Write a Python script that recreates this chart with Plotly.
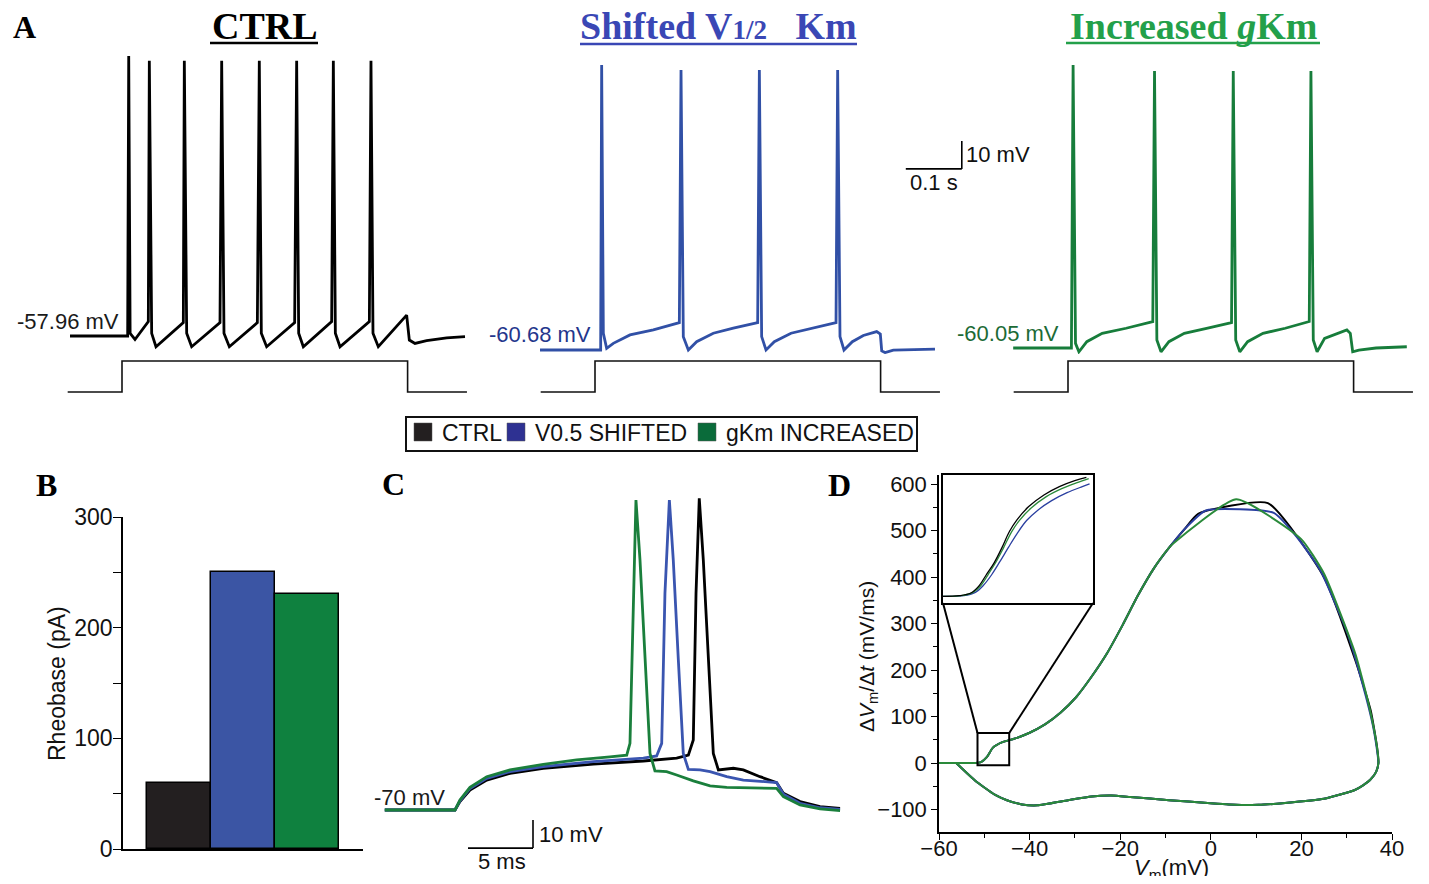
import plotly.graph_objects as go

W, H = 1429, 884          # browser window
OFF = 8                   # default page body margin
FW, FH = W - 2 * OFF, H - 2 * OFF   # figure size that fits inside the window

# ===================== DATA =====================
# Panel A: membrane potential traces, time (ms) and voltage (mV)
ctrl_t = [7.1, 110.1, 112.0, 114.5, 123.2, 144.0, 147.0, 148.8, 153.0, 160.7, 209.5, 211.3, 215.5, 224.4,
          275.0, 278.0, 282.1, 291.7, 341.7, 345.2, 348.8, 358.3, 408.3, 411.9, 415.5, 423.8, 474.4, 477.4,
          481.0, 489.3, 541.7, 544.6, 548.2, 557.7, 608.3, 613.1, 623.2, 644.0, 679.8, 712.5]
ctrl_v = [-57.96, -57.96, 42.0, -57.0, -59.2, -53.2, -52.8, 40.3, -57.0, -61.8, -53.2, 40.3, -57.0, -61.8,
          -53.2, 40.3, -57.0, -61.8, -53.2, 40.3, -57.0, -61.8, -53.2, 40.3, -57.0, -61.8, -52.8, 40.3,
          -57.0, -61.8, -52.8, 40.3, -57.0, -61.8, -50.5, -59.4, -60.6, -59.6, -58.6, -58.2]

blue_t = [1.8, 110.1, 111.9, 114.9, 120.8, 132.7, 162.5, 204.2, 250.6, 253.6, 257.7, 266.7, 281.5, 311.3,
          347.0, 390.5, 393.5, 397.6, 405.4, 420.2, 450.0, 485.7, 530.4, 533.3, 537.5, 544.6, 559.5, 579.2,
          603.0, 609.5, 612.0, 618.0, 632.7, 707.1]
blue_v = [-60.68, -60.68, 41.1, -54.7, -60.1, -58.3, -55.3, -53.5, -50.9, 39.3, -55.9, -60.68, -57.7, -54.7,
          -52.9, -50.9, 39.3, -55.9, -60.68, -57.7, -54.7, -52.9, -50.9, 39.3, -55.9, -60.68, -57.7, -55.5,
          -54.1, -55.0, -61.0, -61.6, -60.7, -60.4]

green_t = [2.1, 106.1, 109.1, 113.4, 119.5, 133.6, 161.1, 203.8, 251.4, 254.5, 258.7, 266.1, 280.2, 307.7,
           347.5, 392.0, 395.1, 399.5, 406.8, 420.8, 448.2, 488.0, 530.8, 533.8, 538.0, 544.8, 558.2, 598.0,
           604.1, 608.4, 619.5, 650.0, 705.0]
green_v = [-60.05, -60.05, 41.0, -58.4, -61.4, -57.8, -54.8, -53.0, -50.6, 38.9, -57.2, -61.4, -57.8, -54.8,
           -53.0, -51.0, 38.9, -57.2, -61.4, -57.8, -54.8, -53.0, -50.6, 38.9, -57.2, -61.4, -56.6, -53.6,
           -54.8, -61.4, -60.8, -60.05, -59.6]

# current step (normalised), time in ms
stim_t = [3, 100, 100, 610, 610, 716]
stim_i = [0, 0, 1, 1, 0, 0]

resting_labels = ["-57.96 mV", "-60.68 mV", "-60.05 mV"]

# Panel B: rheobase (pA)
rheo_groups = ["CTRL", "V0.5 SHIFTED", "gKm INCREASED"]
rheo_pA = [60, 250, 230]
b_tickvals = [0, 50, 100, 150, 200, 250, 300]
b_ticktext = ["0", "", "100", "", "200", "", "300"]

# Panel C: first spike, time (ms) and voltage (mV)
c_ctrl_t = [-5.4, 0, 0.38, 1.15, 2.44, 4.23, 6.79, 10.64, 14.49, 17.05, 17.95, 18.33, 18.54, 18.79, 19.10,
            19.49, 19.87, 20.26, 21.41, 22.18, 23.46, 24.74, 25.26, 26.54, 28.08, 29.62]
c_ctrl_v = [-70, -70, -67.0, -62.9, -59.3, -56.9, -55.1, -53.6, -52.5, -51.5, -50.4, -45.0, 7.4, 41.3, 19.3,
            -16.4, -49.8, -55.7, -55.1, -55.7, -58.1, -60.2, -64.0, -67.0, -68.8, -69.4]
c_blue_t = [-5.4, 0, 0.38, 1.15, 2.44, 4.23, 6.79, 10.64, 14.49, 15.51, 15.90, 16.15, 16.49, 16.79, 17.18,
            17.56, 17.95, 18.85, 19.62, 20.90, 22.18, 24.74, 25.26, 26.54, 28.08, 29.62]
c_blue_v = [-70, -70, -66.7, -62.3, -58.7, -56.3, -54.5, -52.7, -51.5, -50.7, -46.2, 7.4, 40.7, 19.3, -16.4,
            -49.8, -55.5, -55.7, -56.3, -58.1, -59.3, -60.2, -64.4, -67.6, -69.2, -69.8]
c_green_t = [-5.4, 0, 0.38, 1.15, 2.44, 4.23, 6.79, 9.36, 11.92, 13.21, 13.46, 13.72, 13.92, 14.23, 14.62,
             15.0, 15.38, 16.28, 17.05, 18.33, 19.62, 20.90, 24.74, 25.26, 26.54, 28.08, 29.62]
c_green_v = [-70, -70, -66.4, -61.9, -58.1, -55.7, -53.7, -52.1, -51.0, -50.4, -46.2, 7.4, 40.7, 19.3, -16.4,
             -49.8, -56.0, -56.3, -57.5, -59.6, -61.4, -61.9, -62.3, -65.2, -68.2, -69.6, -70.2]

# Panel D: phase plots, Vm (mV) vs dVm/dt (mV/ms)
d_up_v = [-60, -56.2, -52.0, -50.7, -49.4, -48.1, -46.0, -43.4, -40.0, -36.6, -33.2, -29.7, -26.3, -22.9,
          -19.5, -16.1, -12.6, -9.2]
d_up_dvdt = [0, 0, 0, 2, 13, 33, 45, 52, 65, 83, 108, 142, 186, 236, 296, 360, 418, 463]
d_down_v = [36.5, 35.2, 33.6, 31.8, 25.0, 16.4, 10.5, 4.0, -0.7, -9.2, -17.8, -22.0, -26.3, -31.5, -38.3,
            -41.7, -45.0, -47.7, -52.0, -56.2]
d_down_dvdt = [-19, -36, -48, -58, -77, -86, -90, -89, -86, -80, -73, -70, -72, -80, -91, -89, -80, -68,
               -38, 0]
d_ctrl_top_v = [-5.8, -2.8, 12.6, 25.0, 31.9, 35.3, 36.7, 37.0]
d_ctrl_top_dvdt = [503, 536, 559, 399, 221, 113, 34, 0]
d_blue_top_v = [-5.8, -1.1, 13.9, 19.0, 24.2, 30.2, 33.5, 35.8, 36.8, 37.0]
d_blue_top_dvdt = [503, 543, 538, 486, 414, 278, 170, 80, 20, 0]
d_green_top_v = [-8.3, 5.6, 19.9, 25.0, 31.9, 35.0, 36.6, 37.0]
d_green_top_dvdt = [472, 567, 482, 407, 235, 120, 40, 0]

# Panel D inset (threshold region)
ins_ctrl_v = [-51.5, -50.74, -50.2, -49.84, -49.48, -49.12, -48.76, -48.4, -48.05, -47.5, -46.79, -46.07,
              -45.35, -44.81]
ins_ctrl_dvdt = [-1.39, -1.03, 0.42, 4.03, 10.34, 16.66, 24.79, 33.81, 40.13, 47.35, 53.67, 58.18, 61.43, 63.24]
ins_green_v = [-51.5, -50.64, -50.1, -49.74, -49.38, -49.02, -48.66, -48.3, -47.94, -47.4, -46.68, -45.96,
               -45.24, -44.7]
ins_green_dvdt = [-1.39, -1.03, 0.78, 4.39, 10.71, 17.38, 25.33, 33.63, 39.77, 46.45, 52.77, 57.1, 60.35, 62.52]
ins_blue_v = [-51.5, -50.53, -49.99, -49.63, -49.23, -48.84, -48.44, -48.05, -47.6, -47.06, -46.43, -45.71,
              -45.0, -44.66]
ins_blue_dvdt = [-1.39, -1.03, 0.78, 4.39, 10.34, 17.56, 25.33, 32.55, 39.77, 45.55, 50.6, 54.93, 58.18, 59.63]
ins_window_v = [-51.5, -44.5]
ins_window_dvdt = [-5, 64.5]

legend_names = ["CTRL", "V0.5 SHIFTED", "gKm INCREASED"]

# ===================== STYLE / LAYOUT =====================
SANS = "Liberation Sans, Arial, sans-serif"
SERIF = "Liberation Serif, Times New Roman, serif"
BLACK = "#000000"
BLUE = "#3150a6"
GREEN = "#177d3b"


def px(x):
    return (x - OFF) / FW


def py(y):
    return 1 - (y - OFF) / FH


def dom_x(p0, p1):
    return [px(p0), px(p1)]


def dom_y(top, bot):
    return [py(bot), py(top)]


def rng_x(p0, p1, ref_px, ref_val, ppu):
    return [ref_val + (p0 - ref_px) / ppu, ref_val + (p1 - ref_px) / ppu]


def rng_y(top, bot, ref_py, ref_val, ppu):
    return [ref_val - (bot - ref_py) / ppu, ref_val + (ref_py - top) / ppu]


def akey(letter, n):
    return f"{letter}axis" if n == 1 else f"{letter}axis{n}"


def aref(letter, n):
    return letter if n == 1 else f"{letter}{n}"


fig = go.Figure()
layout = {}
shapes = []
annotations = []
hidden = dict(visible=False, fixedrange=True, showgrid=False, zeroline=False, automargin=False)


def ann(x, y, text, size, color=BLACK, xanchor="center", yanchor="middle", family=SANS, **kw):
    annotations.append(dict(x=px(x), y=py(y), xref="paper", yref="paper", text=text, showarrow=False,
                            xanchor=xanchor, yanchor=yanchor, font=dict(size=size, color=color, family=family),
                            **kw))


def pline(x0, y0, x1, y1, color=BLACK, width=2):
    shapes.append(dict(type="line", xref="paper", yref="paper", x0=px(x0), y0=py(y0), x1=px(x1), y1=py(y1),
                       line=dict(color=color, width=width)))


# ---------- Panel A ----------
a_panels = [
    dict(t=ctrl_t, v=ctrl_v, color=BLACK, x0=55, x1=480, t0px=66, vref=-57.96, vpx=336),
    dict(t=blue_t, v=blue_v, color=BLUE, x0=530, x1=975, t0px=539, vref=-60.68, vpx=350),
    dict(t=green_t, v=green_v, color=GREEN, x0=990, x1=1421, t0px=1012, vref=-60.05, vpx=348),
]
PPMS = 0.56   # px per ms
PPMV = 2.8    # px per mV
n = 1
for p in a_panels:
    xr = rng_x(p["x0"], p["x1"], p["t0px"], 0, PPMS)
    layout[akey("x", n)] = dict(hidden, domain=dom_x(p["x0"], p["x1"]), range=xr, anchor=aref("y", n))
    layout[akey("y", n)] = dict(hidden, domain=dom_y(40, 354), range=rng_y(40, 354, p["vpx"], p["vref"], PPMV),
                                anchor=aref("x", n))
    fig.add_trace(go.Scatter(x=p["t"], y=p["v"], mode="lines", line=dict(color=p["color"], width=2.8),
                             xaxis=aref("x", n), yaxis=aref("y", n), hoverinfo="skip", showlegend=False))
    m = n + 1
    layout[akey("x", m)] = dict(hidden, domain=dom_x(p["x0"], p["x1"]), range=xr, anchor=aref("y", m))
    layout[akey("y", m)] = dict(hidden, domain=dom_y(354, 400), range=rng_y(354, 400, 392, 0, 31),
                                anchor=aref("x", m))
    fig.add_trace(go.Scatter(x=stim_t, y=stim_i, mode="lines", line=dict(color="#111111", width=1.6),
                             xaxis=aref("x", m), yaxis=aref("y", m), hoverinfo="skip", showlegend=False))
    n += 2

# resting potential labels
ann(121, 322, resting_labels[0], 22, "#1a1a1a", xanchor="right")
ann(593, 335, resting_labels[1], 22, "#24368c", xanchor="right")
ann(1061, 333, resting_labels[2], 22, "#1c6b36", xanchor="right")

# titles
ann(264.5, 26, "<b>CTRL</b>", 38, BLACK, family=SERIF)
pline(210, 43, 318, 43, BLACK, 2.5)
ann(718.5, 26, "<b>Shifted V<span style='font-size:27px'>1/2</span>\u00a0\u00a0\u00a0Km</b>", 38, "#3a47b5",
    family=SERIF)
pline(580, 44, 857, 44, "#3a47b5", 2.5)
ann(1193, 26, "<b>Increased <i>g</i>Km</b>", 38, "#23a04a", family=SERIF)
pline(1066, 43, 1320, 43, "#23a04a", 2.5)

# scale bar (blue panel coordinates: axes x3/y3)
shapes.append(dict(type="line", xref="x3", yref="y3", x0=655, x1=755, y0=4, y1=4,
                   line=dict(color=BLACK, width=1.6)))
shapes.append(dict(type="line", xref="x3", yref="y3", x0=755, x1=755, y0=4, y1=14,
                   line=dict(color=BLACK, width=1.6)))
annotations.append(dict(x=755, y=9, xref="x3", yref="y3", text="10 mV", showarrow=False, xanchor="left",
                        yanchor="middle", xshift=2, font=dict(size=22, family=SANS, color="#111111")))
annotations.append(dict(x=705, y=4, xref="x3", yref="y3", text="0.1 s", showarrow=False, xanchor="center",
                        yanchor="top", yshift=1, font=dict(size=22, family=SANS, color="#111111")))

# panel letters
ann(24.5, 27, "<b>A</b>", 32, family=SERIF)
ann(46.5, 485, "<b>B</b>", 32, family=SERIF)
ann(394, 484, "<b>C</b>", 32, family=SERIF)
ann(839, 485, "<b>D</b>", 32, family=SERIF)

# ---------- Legend (manual) ----------
shapes.append(dict(type="rect", xref="paper", yref="paper", x0=px(406), x1=px(917), y0=py(451), y1=py(417),
                   line=dict(color="#111111", width=2), fillcolor="white"))
leg_colors = ["#231f20", "#2e3192", "#0a6b3a"]
leg_sq_x = [414, 507, 698]
leg_txt_x = [440, 533, 724]
for name, c, sx, tx in zip(legend_names, leg_colors, leg_sq_x, leg_txt_x):
    shapes.append(dict(type="rect", xref="paper", yref="paper", x0=px(sx), x1=px(sx + 18), y0=py(441),
                       y1=py(423), line=dict(color="#555555", width=0.5), fillcolor=c))
    ann(tx, 433, name, 23, "#111111", xanchor="left")

# ---------- Panel B ----------
layout["xaxis7"] = dict(domain=dom_x(123, 363), range=[-0.875, 2.875], type="category", showline=True,
                        linecolor=BLACK, linewidth=1.5, ticks="", showticklabels=False, showgrid=False,
                        zeroline=False, fixedrange=True, automargin=False, anchor="y7")
layout["yaxis7"] = dict(domain=dom_y(517, 849), range=[0, 300], showline=True, linecolor=BLACK, linewidth=1.5,
                        ticks="outside", ticklen=8, tickwidth=1.3, tickcolor=BLACK, tickvals=b_tickvals,
                        ticktext=b_ticktext, tickfont=dict(size=23, family=SANS, color="#111111"),
                        ticklabelstandoff=-4,
                        showgrid=False, zeroline=False, fixedrange=True, automargin=False, anchor="x7")
fig.add_trace(go.Bar(x=rheo_groups, y=rheo_pA, width=1,
                     marker=dict(color=["#231f20", "#3b55a4", "#0f813f"], line=dict(color=BLACK, width=1.5)),
                     xaxis="x7", yaxis="y7", hoverinfo="skip", showlegend=False))
ann(57, 683, "Rheobase (pA)", 23, "#111111", textangle=-90)

# ---------- Panel C ----------
C_X0, C_X1, C_T0PX, C_PPMS = 370, 860, 455, 13
layout["xaxis8"] = dict(hidden, domain=dom_x(C_X0, C_X1), range=rng_x(C_X0, C_X1, C_T0PX, 0, C_PPMS),
                        anchor="y8")
layout["yaxis8"] = dict(hidden, domain=dom_y(480, 870), range=rng_y(480, 870, 810, -70, PPMV), anchor="x8")
for tt, vv, col in [(c_ctrl_t, c_ctrl_v, BLACK), (c_blue_t, c_blue_v, "#3a55b0"),
                    (c_green_t, c_green_v, "#1a7f3c")]:
    fig.add_trace(go.Scatter(x=tt, y=vv, mode="lines", line=dict(color=col, width=2.8), xaxis="x8",
                             yaxis="y8", hoverinfo="skip", showlegend=False))
ann(447, 797, "-70 mV", 22, "#1a1a1a", xanchor="right")
shapes.append(dict(type="line", xref="x8", yref="y8", x0=1, x1=6, y0=-83.6, y1=-83.6,
                   line=dict(color=BLACK, width=1.6)))
shapes.append(dict(type="line", xref="x8", yref="y8", x0=6, x1=6, y0=-83.6, y1=-73.6,
                   line=dict(color=BLACK, width=1.6)))
annotations.append(dict(x=6, y=-78.8, xref="x8", yref="y8", text="10 mV", showarrow=False, xanchor="left",
                        yanchor="middle", xshift=4, font=dict(size=22, family=SANS, color="#111111")))
annotations.append(dict(x=3.6, y=-83.6, xref="x8", yref="y8", text="5 ms", showarrow=False, xanchor="center",
                        yanchor="top", yshift=1, font=dict(size=22, family=SANS, color="#111111")))

# ---------- Panel D ----------
D_X0, D_X1, D_TOP, D_BOT = 939, 1392, 475, 832
d_xr = [-60, 40]
d_yr = rng_y(D_TOP, D_BOT, 763, 0, 0.465)
axis_common = dict(showline=True, linecolor=BLACK, linewidth=1.5, ticks="outside", ticklen=6, tickwidth=1.3,
                   tickcolor=BLACK, tickfont=dict(size=22, family=SANS, color="#111111"), showgrid=False,
                   zeroline=False, fixedrange=True, automargin=False)
layout["xaxis9"] = dict(axis_common, domain=dom_x(D_X0, D_X1), range=d_xr, tick0=0, dtick=20,
                        ticklabelstandoff=-10,
                        minor=dict(dtick=10, ticks="outside", ticklen=4, tickcolor=BLACK, tickwidth=1.2),
                        anchor="y9")
layout["yaxis9"] = dict(axis_common, domain=dom_y(D_TOP, D_BOT), range=d_yr, tick0=0, dtick=100,
                        minor=dict(dtick=50, ticks="outside", ticklen=4, tickcolor=BLACK, tickwidth=1.2),
                        anchor="x9")
d_series = [
    (d_up_v + d_ctrl_top_v + d_down_v, d_up_dvdt + d_ctrl_top_dvdt + d_down_dvdt, BLACK),
    (d_up_v + d_blue_top_v + d_down_v, d_up_dvdt + d_blue_top_dvdt + d_down_dvdt, "#2a3fa0"),
    (d_up_v + d_green_top_v + d_down_v, d_up_dvdt + d_green_top_dvdt + d_down_dvdt, "#2a8a3a"),
]
for vv, dd, col in d_series:
    fig.add_trace(go.Scatter(x=vv, y=dd, mode="lines", line=dict(color=col, width=2, shape="spline",
                                                                  smoothing=0.5),
                             xaxis="x9", yaxis="y9", hoverinfo="skip", showlegend=False))
ann(1171, 869, "<i>V</i><sub>m</sub>(mV)", 22, "#111111")
ann(868, 657, "Δ<i>V</i><sub>m</sub>/Δ<i>t</i> (mV/ms)", 21, "#111111", textangle=-90)

# inset
I_X0, I_X1, I_TOP, I_BOT = 943, 1093, 475, 603
layout["xaxis10"] = dict(domain=dom_x(I_X0, I_X1), range=ins_window_v, showline=True, mirror=True,
                         linecolor=BLACK, linewidth=2, ticks="", showticklabels=False, showgrid=False,
                         zeroline=False, fixedrange=True, automargin=False, anchor="y10")
layout["yaxis10"] = dict(domain=dom_y(I_TOP, I_BOT), range=ins_window_dvdt, showline=True, mirror=True,
                         linecolor=BLACK, linewidth=2, ticks="", showticklabels=False, showgrid=False,
                         zeroline=False, fixedrange=True, automargin=False, anchor="x10")
for vv, dd, col in [(ins_blue_v, ins_blue_dvdt, "#2a3fa0"), (ins_green_v, ins_green_dvdt, "#2a8a3a"),
                    (ins_ctrl_v, ins_ctrl_dvdt, BLACK)]:
    fig.add_trace(go.Scatter(x=vv, y=dd, mode="lines", line=dict(color=col, width=1.3, shape="spline"),
                             xaxis="x10", yaxis="y10", hoverinfo="skip", showlegend=False))


def d_data_x(pxv):
    return d_xr[0] + (pxv - D_X0) / (D_X1 - D_X0) * (d_xr[1] - d_xr[0])


def d_data_y(pyv):
    return d_yr[0] + (D_BOT - pyv) / (D_BOT - D_TOP) * (d_yr[1] - d_yr[0])


shapes.append(dict(type="rect", xref="x9", yref="y9", x0=ins_window_v[0], x1=ins_window_v[1],
                   y0=ins_window_dvdt[0], y1=ins_window_dvdt[1], line=dict(color=BLACK, width=2)))
shapes.append(dict(type="line", xref="x9", yref="y9", x0=d_data_x(I_X0), y0=d_data_y(I_BOT),
                   x1=ins_window_v[0], y1=ins_window_dvdt[1], line=dict(color=BLACK, width=2)))
shapes.append(dict(type="line", xref="x9", yref="y9", x0=d_data_x(I_X1), y0=d_data_y(I_BOT),
                   x1=ins_window_v[1], y1=ins_window_dvdt[1], line=dict(color=BLACK, width=2)))

layout.update(dict(width=FW, height=FH, margin=dict(l=0, r=0, t=0, b=0, pad=0, autoexpand=False),
                   paper_bgcolor="white", plot_bgcolor="rgba(0,0,0,0)", showlegend=False, bargap=0,
                   font=dict(family=SANS, size=22, color="#111111"),
                   shapes=shapes, annotations=annotations))
fig.update_layout(**layout)
fig.write_html("out.html", include_plotlyjs=True, config={"displayModeBar": False})
